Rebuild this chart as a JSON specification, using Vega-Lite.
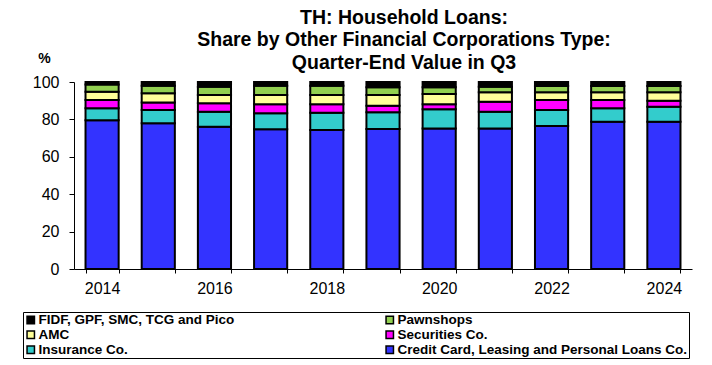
{
  "$schema": "https://vega.github.io/schema/vega-lite/v6.json",
  "autosize": "none",
  "width": 618,
  "height": 187,
  "padding": {"left": 74, "top": 82, "right": 20, "bottom": 96},
  "background": "white",
  "config": {
    "font": "Liberation Sans",
    "view": {"stroke": null}
  },
  "title": {
    "text": ["TH: Household Loans:", "Share by Other Financial Corporations Type:", "Quarter-End Value in Q3"],
    "fontSize": 19.5,
    "fontWeight": "bold",
    "color": "black",
    "lineHeight": 22.5,
    "anchor": "middle",
    "frame": "group",
    "dx": 21,
    "offset": -22
  },
  "data": {
    "values": [
      {"year": "2014", "credit": 79.5, "insurance": 6.4, "securities": 4.5, "amc": 4.4, "pawnshops": 3.8, "fidf": 1.4},
      {"year": "2015", "credit": 77.9, "insurance": 7.1, "securities": 4.1, "amc": 4.9, "pawnshops": 4.0, "fidf": 2.0},
      {"year": "2016", "credit": 76.1, "insurance": 8.0, "securities": 4.5, "amc": 4.4, "pawnshops": 4.5, "fidf": 2.5},
      {"year": "2017", "credit": 74.7, "insurance": 8.6, "securities": 4.8, "amc": 4.9, "pawnshops": 5.0, "fidf": 2.0},
      {"year": "2018", "credit": 74.3, "insurance": 9.3, "securities": 4.5, "amc": 4.9, "pawnshops": 5.0, "fidf": 2.0},
      {"year": "2019", "credit": 74.9, "insurance": 8.9, "securities": 3.5, "amc": 5.7, "pawnshops": 4.2, "fidf": 2.8},
      {"year": "2020", "credit": 75.2, "insurance": 10.2, "securities": 2.7, "amc": 5.5, "pawnshops": 3.6, "fidf": 2.8},
      {"year": "2021", "credit": 75.2, "insurance": 8.9, "securities": 5.4, "amc": 5.0, "pawnshops": 3.0, "fidf": 2.5},
      {"year": "2022", "credit": 76.5, "insurance": 8.5, "securities": 5.4, "amc": 4.1, "pawnshops": 3.4, "fidf": 2.1},
      {"year": "2023", "credit": 78.8, "insurance": 7.1, "securities": 4.5, "amc": 4.1, "pawnshops": 3.4, "fidf": 2.1},
      {"year": "2024", "credit": 78.8, "insurance": 8.0, "securities": 3.2, "amc": 4.5, "pawnshops": 3.4, "fidf": 2.1}
    ]
  },
  "transform": [
    {"fold": ["credit", "insurance", "securities", "amc", "pawnshops", "fidf"], "as": ["type", "value"]},
    {"calculate": "indexof(['credit', 'insurance', 'securities', 'amc', 'pawnshops', 'fidf'], datum.type)", "as": "stackOrder"}
  ],
  "mark": {"type": "bar", "stroke": "black", "strokeWidth": 2},
  "encoding": {
    "x": {
      "field": "year",
      "type": "ordinal",
      "scale": {"paddingInner": 0.41, "paddingOuter": 0.205},
      "axis": {
        "title": null,
        "labelAngle": 0,
        "labelExpr": "toNumber(datum.value) % 2 == 0 ? datum.label : ''",
        "labelFontSize": 16,
        "labelColor": "black",
        "labelPadding": 7,
        "tickBand": "extent",
        "tickSize": 4,
        "tickColor": "black",
        "domainColor": "black"
      }
    },
    "y": {
      "field": "value",
      "type": "quantitative",
      "stack": "zero",
      "scale": {"domain": [0, 100], "nice": false},
      "axis": {
        "title": "%",
        "titleAngle": 0,
        "titleFontSize": 14,
        "titleFontWeight": "bold",
        "titleColor": "black",
        "titleX": -30,
        "titleY": -24,
        "titleAlign": "center",
        "titleBaseline": "middle",
        "values": [0, 20, 40, 60, 80, 100],
        "grid": false,
        "labelFontSize": 16,
        "labelColor": "black",
        "labelPadding": 10,
        "tickSize": 5,
        "tickColor": "black",
        "domainColor": "black"
      }
    },
    "color": {
      "field": "type",
      "type": "nominal",
      "scale": {
        "domain": ["fidf", "pawnshops", "amc", "securities", "insurance", "credit"],
        "range": ["#000000", "#92D050", "#FFFF99", "#FF00FF", "#33CCCC", "#3333FF"]
      },
      "legend": {
        "title": null,
        "orient": "none",
        "legendX": -51,
        "legendY": 230,
        "columns": 2,
        "direction": "horizontal",
        "columnPadding": 148,
        "rowPadding": 0,
        "padding": 1,
        "strokeColor": "black",
        "fillColor": "white",
        "symbolType": "square",
        "symbolSize": 55,
        "symbolStrokeColor": "black",
        "symbolStrokeWidth": 1.5,
        "symbolOpacity": 1,
        "labelFontSize": 13.5,
        "labelFontWeight": "bold",
        "labelColor": "black",
        "labelOffset": 1,
        "labelLimit": 400,
        "labelExpr": "{'fidf': 'FIDF, GPF, SMC, TCG and Pico', 'pawnshops': 'Pawnshops', 'amc': 'AMC', 'securities': 'Securities Co.', 'insurance': 'Insurance Co.', 'credit': 'Credit Card, Leasing and Personal Loans Co.'}[datum.value]"
      }
    },
    "order": {"field": "stackOrder", "type": "quantitative", "sort": "ascending"}
  }
}
